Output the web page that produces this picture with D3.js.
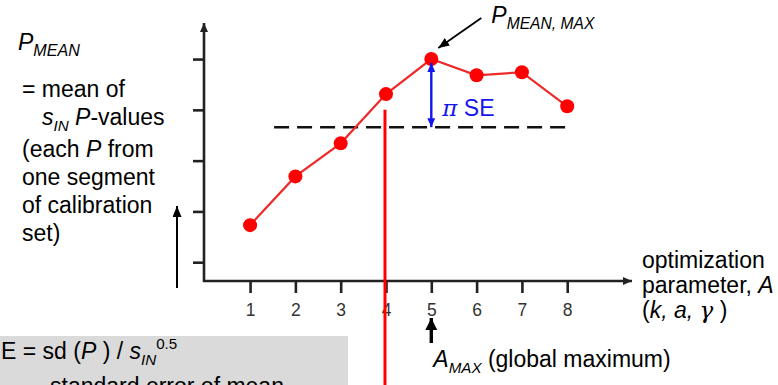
<!DOCTYPE html>
<html>
<head>
<meta charset="utf-8">
<script src="https://cdn.jsdelivr.net/npm/d3@7"></script>
<style>
  body { margin: 0; background: #fff; }
  svg { display: block; font-family: "Liberation Sans", Arial, sans-serif; }
</style>
</head>
<body>
<svg id="chart" width="778" height="385"></svg>
<script>
// Optimization parameter settings (x) and the mean P obtained at each (y)
const params = [1, 2, 3, 4, 5, 6, 7, 8];
const xTickLabels = ["1", "2", "3", "4", "5", "6", "7", "8"];
const pMean = [1.73, 2.69, 3.34, 4.31, 5.0, 4.68, 4.74, 4.07];
const yTicks = [1, 2, 3, 4, 5];
// Standard error of the mean at the maximum; cutoff = max - pi * SE
const se = 0.427;
// Parameter value picked as the first one whose P_MEAN clears the cutoff
const chosenA = 4;
const chosenTop = 4.0;
// Horizontal extent of the cutoff line, in parameter units
const cutoffSpan = [1.53, 8.1];

const svg = d3.select("#chart");
const FS = 23;

const x = d3.scaleLinear().domain([-0.017, 9.43]).range([204, 632]);
const y = d3.scaleLinear().domain([0.63, 5.71]).range([281, 23]);

const defs = svg.append("defs");
function arrowMarker(id, color, w, h) {
  defs.append("marker")
    .attr("id", id).attr("viewBox", `0 0 ${w} ${h}`)
    .attr("refX", w).attr("refY", h / 2)
    .attr("markerWidth", w).attr("markerHeight", h)
    .attr("markerUnits", "userSpaceOnUse")
    .attr("orient", "auto-start-reverse")
    .append("path").attr("d", `M0,0L${w},${h / 2}L0,${h}Z`).attr("fill", color);
}
arrowMarker("ax", "#222", 9, 8);
arrowMarker("blk", "#000", 11, 9);
arrowMarker("big", "#000", 12, 12);
arrowMarker("blu", "#1515ee", 9, 8);

// Rich text helper: italics, subscripts and superscripts via tspans
function rich(px, py, parts, size, fill) {
  const t = svg.append("text").attr("x", px).attr("y", py)
    .attr("font-size", size).attr("fill", fill || "#000");
  let shift = 0;
  parts.forEach(p => {
    const s = t.append("tspan").text(p.t);
    const target = p.sub ? size * 0.28 : p.sup ? -size * 0.42 : 0;
    if (target !== shift) { s.attr("dy", target - shift); shift = target; }
    if (p.sub || p.sup) s.attr("font-size", size * (p.scale || 0.66));
    if (p.i) s.attr("font-style", "italic");
    if (p.font) s.attr("font-family", p.font);
  });
  return t;
}

// Grey note box (bottom left)
svg.append("rect").attr("x", 0).attr("y", 336).attr("width", 348).attr("height", 49).attr("fill", "#dadada");
rich(1, 359, [
  { t: "E = sd (" }, { t: "P", i: true }, { t: " ) / " }, { t: "s", i: true },
  { t: "IN", i: true, sub: true }, { t: "0.5", sup: true }
], FS);
rich(50, 394, [{ t: "standard error of mean" }], FS);

// Y-axis description
rich(18, 50, [{ t: "P", i: true }, { t: "MEAN", i: true, sub: true, scale: 0.7 }], FS);
rich(22, 97, [{ t: "= mean of" }], FS);
rich(42, 125, [{ t: "s", i: true }, { t: "IN", i: true, sub: true }, { t: " " }, { t: "P", i: true }, { t: "-values" }], FS);
rich(22, 157, [{ t: "(each " }, { t: "P", i: true }, { t: " from" }], FS);
rich(22, 185, [{ t: "one segment" }], FS);
rich(22, 213, [{ t: "of calibration" }], FS);
rich(22, 241, [{ t: "set)" }], FS);

svg.append("line").attr("x1", 177).attr("y1", 288).attr("x2", 177).attr("y2", 206)
  .attr("stroke", "#000").attr("stroke-width", 2).attr("marker-end", "url(#blk)");

// X-axis description
rich(642, 268, [{ t: "optimization" }], FS);
rich(642, 293, [{ t: "parameter, " }, { t: "A", i: true }], FS);
rich(642, 318, [{ t: "(" }, { t: "k, a, ", i: true }, { t: "γ", i: true, font: "DejaVu Serif" }, { t: " )" }], FS);

// Axes
const yAxis = d3.axisLeft(y).tickValues(yTicks).tickFormat("").tickSize(11);
const gy = svg.append("g").attr("transform", `translate(${x(x.domain()[0])},0)`).call(yAxis);
gy.select(".domain").remove();
gy.selectAll(".tick line").attr("stroke", "#222").attr("stroke-width", 2.6);

const xAxis = d3.axisBottom(x).tickValues(params)
  .tickFormat((d, i) => xTickLabels[i]).tickSize(12).tickPadding(11);
const gx = svg.append("g").attr("transform", `translate(0,${y(y.domain()[0])})`).call(xAxis);
gx.select(".domain").remove();
gx.selectAll(".tick line").attr("stroke", "#222").attr("stroke-width", 2.6);
gx.selectAll(".tick text").attr("font-size", 17.5).attr("fill", "#333")
  .attr("font-family", "'Liberation Sans', Arial, sans-serif");

const x0 = x(x.domain()[0]), y0 = y(y.domain()[0]);
svg.append("line").attr("x1", x0).attr("y1", y0 + 1).attr("x2", x0).attr("y2", y(y.domain()[1]))
  .attr("stroke", "#222").attr("stroke-width", 2.6).attr("marker-end", "url(#ax)");
svg.append("line").attr("x1", x0 - 1).attr("y1", y0).attr("x2", x(x.domain()[1])).attr("y2", y0)
  .attr("stroke", "#222").attr("stroke-width", 2.6).attr("marker-end", "url(#ax)");

// Cutoff line: P_MEAN,MAX minus pi * SE
const pMax = d3.max(pMean);
const iMax = pMean.indexOf(pMax);
const cutoff = pMax - Math.PI * se;
svg.append("line")
  .attr("x1", x(cutoffSpan[0])).attr("x2", x(cutoffSpan[1]))
  .attr("y1", y(cutoff)).attr("y2", y(cutoff))
  .attr("stroke", "#111").attr("stroke-width", 2.6).attr("stroke-dasharray", "15 8");

// Mean P curve
const data = params.map((a, i) => ({ a, p: pMean[i] }));
svg.append("path").datum(data)
  .attr("d", d3.line().x(d => x(d.a)).y(d => y(d.p)))
  .attr("fill", "none").attr("stroke", "#ee2a2a").attr("stroke-width", 2.2);
svg.selectAll("circle.pt").data(data).join("circle").attr("class", "pt")
  .attr("cx", d => x(d.a)).attr("cy", d => y(d.p)).attr("r", 7).attr("fill", "#ff0000");

// pi * SE span between the maximum and the cutoff
const xm = x(params[iMax]);
svg.append("line").attr("x1", xm).attr("x2", xm)
  .attr("y1", y(pMax) + 4).attr("y2", y(cutoff))
  .attr("stroke", "#1515ee").attr("stroke-width", 2.4)
  .attr("marker-start", "url(#blu)").attr("marker-end", "url(#blu)");
rich(xm + 11, y(pMax) + 57, [{ t: "π", i: true, font: "DejaVu Serif" }, { t: " SE" }], FS, "#1515ee");

// Label for the maximum
svg.append("line").attr("x1", xm + 50).attr("y1", y(pMax) - 41)
  .attr("x2", xm + 7).attr("y2", y(pMax) - 11)
  .attr("stroke", "#000").attr("stroke-width", 1.8).attr("marker-end", "url(#blk)");
rich(xm + 60, 23, [{ t: "P", i: true }, { t: "MEAN, MAX", i: true, sub: true, scale: 0.68 }], FS);

// Global maximum marker below the axis
svg.append("line").attr("x1", xm).attr("x2", xm).attr("y1", 343).attr("y2", 318)
  .attr("stroke", "#000").attr("stroke-width", 3.4).attr("marker-end", "url(#big)");
rich(xm + 2, 367, [{ t: "A", i: true }, { t: "MAX", i: true, sub: true }, { t: " (global maximum)" }], FS);

// Selected parameter value
svg.append("line").attr("x1", x(chosenA) - 1).attr("x2", x(chosenA) - 1)
  .attr("y1", y(chosenTop)).attr("y2", 385)
  .attr("stroke", "#ff0000").attr("stroke-width", 3);
</script>
</body>
</html>
